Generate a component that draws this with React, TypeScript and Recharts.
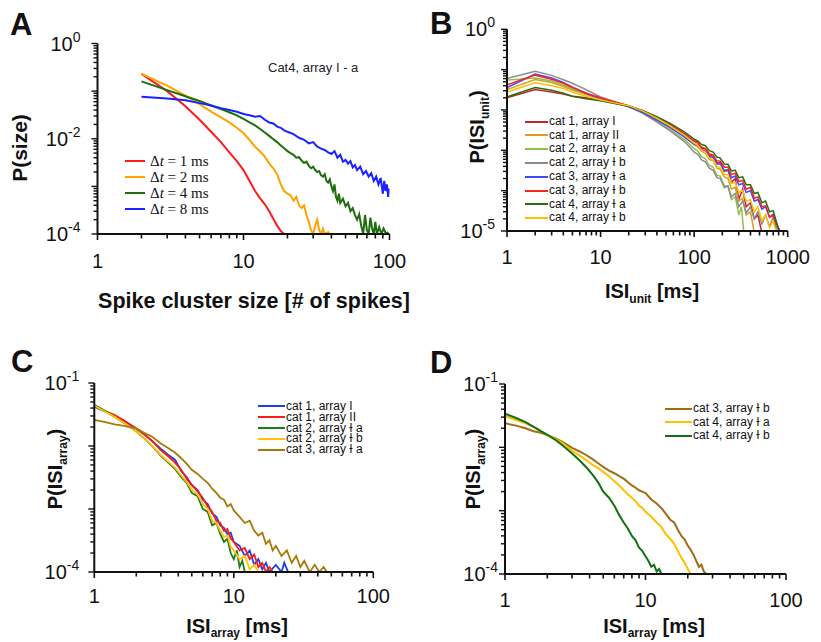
import { LineChart, Line, XAxis, YAxis, Legend } from "recharts";

type Pt = [number, number];

const FONT = "'Liberation Sans', Arial, Helvetica, sans-serif";
const SERIF = "'Liberation Serif', 'Times New Roman', serif";

// ---- Panel A: spike cluster size distributions (Cat4, array I - a)
const sizeDt1: Pt[] = [
  [2, 0.23], [3, 0.1], [4, 0.048], [5, 0.025], [6, 0.014], [7, 0.0085], [8, 0.0052],
  [9, 0.0034], [10, 0.0022], [11, 0.0013], [12, 8.0e-4], [13, 5.6e-4], [14, 4.2e-4],
  [15, 3.0e-4], [16, 2.1e-4], [17, 1.5e-4], [18, 1.15e-4], [19, 1.0e-4], [19.5, 9e-5],
];
const sizeDt2: Pt[] = [
  [2, 0.23], [3, 0.13], [4, 0.08], [5, 0.053], [6, 0.037], [7, 0.028], [8, 0.022],
  [9, 0.017], [10, 0.013], [11, 0.0095], [12, 0.0068], [13, 0.0054], [14, 0.0042],
  [15, 0.003], [16, 0.0024], [17, 0.0018], [18, 0.0011], [19, 8e-4], [20, 7e-4],
  [21, 6.5e-4], [22, 5e-4], [23, 6e-4], [24, 4e-4], [25, 3.5e-4], [26, 4e-4],
  [27, 2.5e-4], [28, 1.8e-4], [29, 1.2e-4], [30, 1.0e-4], [31, 1.5e-4], [32, 2.0e-4],
  [33, 1.2e-4], [34, 1.0e-4], [35, 1.3e-4], [36, 1.0e-4], [38, 1.1e-4], [40, 9e-5],
];
const sizeDt4: Pt[] = [
  [2, 0.16], [3, 0.105], [4, 0.078], [5, 0.062], [6, 0.05], [7, 0.042], [8, 0.036],
  [9, 0.031], [10, 0.026], [11, 0.022], [12, 0.019], [13, 0.016], [14, 0.0135],
  [15, 0.0115], [16, 0.0098], [17, 0.0085], [18, 0.0072], [19, 0.0063], [20, 0.0055],
  [21, 0.005], [22, 0.0046], [23, 0.004], [24, 0.0041], [25, 0.0035], [26, 0.0031],
  [27, 0.0033], [28, 0.0027], [29, 0.0024], [30, 0.0026], [31, 0.0022], [32, 0.002],
  [33, 0.0021], [34, 0.0017], [35, 0.0016], [36, 0.0018], [37, 0.0013], [38, 0.0012],
  [39, 0.0014], [40, 0.001], [41, 8e-4], [42, 0.0011], [43, 6e-4], [44, 5e-4],
  [45, 7e-4], [46, 4.5e-4], [48, 5.5e-4], [50, 3.8e-4], [52, 4.5e-4], [54, 3.0e-4],
  [56, 3.5e-4], [58, 2.5e-4], [60, 2.0e-4], [62, 2.6e-4], [64, 1.5e-4], [66, 1.0e-4],
  [68, 2.5e-4], [70, 1.2e-4], [72, 1.0e-4], [74, 2.2e-4], [76, 1.3e-4], [78, 1.0e-4],
  [80, 1.8e-4], [82, 1.0e-4], [85, 1.4e-4], [88, 1.0e-4], [91, 1.3e-4], [95, 1.0e-4],
  [98, 1.1e-4],
];
const sizeDt8: Pt[] = [
  [2, 0.076], [3, 0.07], [4, 0.064], [5, 0.056], [6, 0.05], [7, 0.044], [8, 0.04],
  [9, 0.037], [10, 0.033], [11, 0.031], [12, 0.029], [13, 0.03], [14, 0.025],
  [15, 0.022], [16, 0.021], [17, 0.018], [18, 0.017], [19, 0.015], [20, 0.014],
  [22, 0.0125], [24, 0.0105], [26, 0.0095], [28, 0.008], [30, 0.0085], [32, 0.0068],
  [34, 0.0062], [36, 0.0058], [38, 0.0052], [40, 0.0048], [42, 0.0055], [44, 0.004],
  [46, 0.0046], [48, 0.0033], [50, 0.0036], [52, 0.003], [54, 0.0034], [56, 0.0025],
  [58, 0.0028], [60, 0.0022], [63, 0.0026], [66, 0.0018], [69, 0.0021], [72, 0.0016],
  [75, 0.0019], [78, 0.0013], [81, 0.0016], [84, 0.0011], [87, 0.0015], [90, 7e-4],
  [92, 0.0013], [94, 8e-4], [96, 0.0011], [98, 6e-4], [100, 9e-4],
];

// ---- Panel B: single-unit ISI distributions
const isiUnitCat1I: Pt[] = [
  [1, 0.02], [2, 0.032], [3, 0.028], [4, 0.025], [5, 0.022], [7, 0.02], [10, 0.018],
  [14, 0.015], [20, 0.0125], [28, 0.0095], [40, 0.0064], [56, 0.0042], [80, 0.0025],
  [100, 0.0017], [110, 0.0016], [120, 0.0011], [132, 0.0011], [145, 7.5e-4], [160, 7.2e-4],
  [175, 4.8e-4], [190, 5.0e-4], [210, 3.0e-4], [230, 3.2e-4], [250, 1.6e-4], [275, 2.0e-4],
  [300, 6e-5], [330, 1.1e-4], [360, 4e-5], [400, 5e-5], [440, 2e-5], [480, 2.5e-5], [530, 9e-6],
];
const isiUnitCat1II: Pt[] = [
  [1, 0.032], [2, 0.057], [3, 0.048], [4, 0.038], [5, 0.031], [7, 0.024], [10, 0.019],
  [14, 0.015], [20, 0.0125], [28, 0.0092], [40, 0.006], [56, 0.0038], [80, 0.0021],
  [100, 0.0014], [110, 0.0012], [120, 9.5e-4], [132, 8.5e-4], [145, 6.0e-4], [160, 5.5e-4],
  [175, 3.6e-4], [190, 3.4e-4], [210, 2.2e-4], [230, 2.0e-4], [250, 1.1e-4], [275, 1.2e-4],
  [300, 5.5e-5], [330, 6.5e-5], [360, 2.5e-5], [400, 3e-5], [440, 9e-6],
];
const isiUnitCat2Ia: Pt[] = [
  [1, 0.055], [2, 0.062], [3, 0.052], [4, 0.041], [5, 0.033], [7, 0.025], [10, 0.019],
  [14, 0.015], [20, 0.012], [28, 0.0084], [40, 0.0052], [56, 0.0032], [80, 0.0018],
  [100, 0.0011], [110, 9.5e-4], [120, 7.0e-4], [132, 6.2e-4], [145, 4.2e-4], [160, 3.8e-4],
  [175, 2.4e-4], [190, 2.3e-4], [210, 1.3e-4], [230, 1.3e-4], [250, 6e-5], [275, 7e-5],
  [300, 2.5e-5], [320, 4e-5], [340, 9e-6],
];
const isiUnitCat2Ib: Pt[] = [
  [1, 0.06], [2, 0.091], [3, 0.072], [4, 0.056], [5, 0.046], [7, 0.032], [10, 0.021],
  [14, 0.016], [20, 0.0125], [28, 0.0085], [40, 0.005], [56, 0.003], [80, 0.0016],
  [100, 9.0e-4], [110, 8.0e-4], [120, 5.8e-4], [132, 5.2e-4], [145, 3.6e-4], [160, 3.2e-4],
  [175, 2.1e-4], [190, 2.0e-4], [210, 1.2e-4], [230, 1.3e-4], [250, 7e-5], [275, 8.5e-5],
  [300, 4e-5], [330, 5.5e-5], [360, 2.8e-5], [400, 4e-5], [440, 2e-5], [480, 3e-5],
  [530, 1.5e-5], [580, 2.5e-5], [640, 1.3e-5], [700, 2.2e-5], [770, 1.2e-5], [850, 9e-6],
];
const isiUnitCat3Ia: Pt[] = [
  [1, 0.036], [2, 0.078], [3, 0.062], [4, 0.048], [5, 0.037], [7, 0.026], [10, 0.019],
  [14, 0.015], [20, 0.012], [28, 0.0088], [40, 0.0056], [56, 0.0036], [80, 0.0021],
  [100, 0.0014], [110, 0.0013], [120, 0.001], [132, 9.5e-4], [145, 7.0e-4], [160, 6.6e-4],
  [175, 4.6e-4], [190, 4.6e-4], [210, 3.2e-4], [230, 3.3e-4], [250, 2.1e-4], [275, 2.3e-4],
  [300, 1.4e-4], [330, 1.5e-4], [360, 9e-5], [400, 1.0e-4], [440, 5.5e-5], [480, 6e-5],
  [530, 3.5e-5], [580, 4e-5], [640, 2.2e-5], [700, 2.6e-5], [770, 1.4e-5], [850, 9e-6],
];
const isiUnitCat3Ib: Pt[] = [
  [1, 0.042], [2, 0.073], [3, 0.058], [4, 0.046], [5, 0.036], [7, 0.026], [10, 0.02],
  [14, 0.016], [20, 0.0128], [28, 0.0096], [40, 0.0065], [56, 0.0043], [80, 0.0025],
  [100, 0.0017], [110, 0.0015], [120, 0.0012], [132, 0.0011], [145, 8.2e-4], [160, 7.6e-4],
  [175, 5.5e-4], [190, 5.4e-4], [210, 3.8e-4], [230, 3.8e-4], [250, 2.5e-4], [275, 2.7e-4],
  [300, 1.7e-4], [330, 1.8e-4], [360, 1.1e-4], [400, 1.2e-4], [440, 6.5e-5], [480, 7e-5],
  [530, 4e-5], [580, 4.2e-5], [640, 2.2e-5], [700, 2.4e-5], [760, 9e-6],
];
const isiUnitCat4Ia: Pt[] = [
  [1, 0.021], [2, 0.036], [3, 0.031], [4, 0.026], [5, 0.022], [7, 0.019], [10, 0.017],
  [14, 0.0145], [20, 0.0125], [28, 0.0098], [40, 0.0068], [56, 0.0046], [80, 0.0028],
  [100, 0.0019], [110, 0.0017], [120, 0.0014], [132, 0.0013], [145, 9.8e-4], [160, 9.0e-4],
  [175, 6.8e-4], [190, 6.4e-4], [210, 4.6e-4], [230, 4.5e-4], [250, 3.1e-4], [275, 3.2e-4],
  [300, 2.1e-4], [330, 2.2e-4], [360, 1.4e-4], [400, 1.4e-4], [440, 8.5e-5], [480, 9e-5],
  [530, 5e-5], [580, 5.5e-5], [640, 3e-5], [700, 3.2e-5], [770, 1.5e-5], [820, 9e-6],
];
const isiUnitCat4Ib: Pt[] = [
  [1, 0.028], [2, 0.047], [3, 0.04], [4, 0.034], [5, 0.028], [7, 0.022], [10, 0.018],
  [14, 0.015], [20, 0.0128], [28, 0.0095], [40, 0.0063], [56, 0.004], [80, 0.0023],
  [100, 0.0015], [110, 0.0013], [120, 0.001], [132, 9.0e-4], [145, 6.4e-4], [160, 5.8e-4],
  [175, 4.0e-4], [190, 3.8e-4], [210, 2.5e-4], [230, 2.5e-4], [250, 1.5e-4], [275, 1.6e-4],
  [300, 9e-5], [330, 1.0e-4], [360, 5.5e-5], [400, 6e-5], [440, 3e-5], [480, 4e-5],
  [530, 1.8e-5], [580, 2.5e-5], [640, 1.2e-5], [700, 1.8e-5], [760, 9e-6],
];

// ---- Panel C: array ISI distributions (cats 1-3)
const isiArrC1I: Pt[] = [
  [1, 0.042], [1.2, 0.035], [1.4, 0.03], [1.6, 0.026], [1.8, 0.022], [2, 0.019], [2.3, 0.015],
  [2.6, 0.012], [3, 0.009], [3.4, 0.0072], [3.8, 0.006], [4.2, 0.004], [4.6, 0.0032],
  [5, 0.0024], [5.5, 0.002], [6, 0.0014], [6.5, 0.0012], [7, 8.5e-4], [7.5, 7.5e-4],
  [8, 5.5e-4], [8.5, 5.0e-4], [9, 4.0e-4], [9.5, 4.2e-4], [10, 3.0e-4], [11, 2.6e-4],
  [12, 1.8e-4], [13, 2.2e-4], [14, 1.3e-4], [15, 1.6e-4], [16, 1.1e-4], [17, 1.4e-4],
  [18, 1.0e-4], [20, 1.3e-4], [22, 1.0e-4], [23, 1.4e-4], [25, 9e-5],
];
const isiArrC1II: Pt[] = [
  [1, 0.043], [1.2, 0.036], [1.4, 0.031], [1.6, 0.026], [1.8, 0.022], [2, 0.019], [2.3, 0.015],
  [2.6, 0.012], [3, 0.0085], [3.4, 0.0068], [3.8, 0.0054], [4.2, 0.0042], [4.6, 0.003],
  [5, 0.0024], [5.5, 0.0019], [6, 0.0015], [6.5, 0.0011], [7, 9.0e-4], [7.5, 6.5e-4],
  [8, 6.0e-4], [8.5, 4.5e-4], [9, 4.8e-4], [9.5, 3.4e-4], [10, 3.0e-4], [11, 2.2e-4],
  [12, 2.4e-4], [13, 1.6e-4], [14, 1.9e-4], [15, 1.2e-4], [16, 1.4e-4], [17, 1.0e-4],
  [18, 1.2e-4], [19, 1.0e-4], [20, 9e-5],
];
const isiArrC2Ia: Pt[] = [
  [1, 0.045], [1.2, 0.036], [1.4, 0.029], [1.6, 0.024], [1.8, 0.02], [2, 0.017], [2.3, 0.013],
  [2.6, 0.01], [3, 0.007], [3.4, 0.0054], [3.8, 0.0043], [4.2, 0.0032], [4.6, 0.0026],
  [5, 0.0018], [5.5, 0.0016], [6, 0.001], [6.5, 9.0e-4], [7, 5.5e-4], [7.5, 6.0e-4],
  [8, 4.0e-4], [8.5, 3.0e-4], [9, 3.4e-4], [9.5, 2.0e-4], [10, 1.6e-4], [10.5, 2.2e-4],
  [11, 1.2e-4], [11.5, 1.5e-4], [12, 1.0e-4], [12.5, 9e-5],
];
const isiArrC2Ib: Pt[] = [
  [1, 0.044], [1.2, 0.035], [1.4, 0.029], [1.6, 0.024], [1.8, 0.02], [2, 0.017], [2.3, 0.013],
  [2.6, 0.01], [3, 0.0072], [3.4, 0.0056], [3.8, 0.0045], [4.2, 0.0034], [4.6, 0.0027],
  [5, 0.002], [5.5, 0.0017], [6, 0.0012], [6.5, 0.001], [7, 6.5e-4], [7.5, 6.0e-4],
  [8, 4.5e-4], [8.5, 3.6e-4], [9, 3.8e-4], [9.5, 2.5e-4], [10, 2.2e-4], [11, 1.6e-4],
  [12, 1.8e-4], [13, 1.1e-4], [14, 1.3e-4], [15, 1.0e-4], [16, 9e-5],
];
const isiArrC3Ia: Pt[] = [
  [1, 0.026], [1.2, 0.024], [1.4, 0.022], [1.6, 0.021], [1.8, 0.02], [2, 0.019], [2.3, 0.016],
  [2.6, 0.014], [3, 0.011], [3.4, 0.0092], [3.8, 0.0078], [4.2, 0.0064], [4.6, 0.0052],
  [5, 0.0042], [5.5, 0.0036], [6, 0.003], [6.5, 0.0026], [7, 0.0021], [7.5, 0.0018],
  [8, 0.0015], [8.5, 0.0014], [9, 0.0011], [9.5, 0.0012], [10, 9.5e-4], [11, 7.5e-4],
  [12, 6.0e-4], [13, 6.5e-4], [14, 4.5e-4], [15, 3.8e-4], [16, 4.2e-4], [17, 2.8e-4],
  [18, 3.2e-4], [19, 2.2e-4], [20, 2.6e-4], [22, 1.8e-4], [24, 2.2e-4], [26, 1.4e-4],
  [28, 1.8e-4], [30, 1.2e-4], [32, 1.5e-4], [35, 1.0e-4], [38, 1.3e-4], [41, 1.0e-4],
  [44, 1.2e-4], [48, 9e-5],
];

// ---- Panel D: array ISI distributions (cats 3-4)
const isiArrD3Ib: Pt[] = [
  [1, 0.024], [1.2, 0.022], [1.4, 0.02], [1.6, 0.018], [1.8, 0.017], [2, 0.0156], [2.3, 0.0138],
  [2.6, 0.012], [3, 0.0098], [3.4, 0.0086], [3.8, 0.0075], [4.2, 0.0065], [4.6, 0.0056],
  [5, 0.0049], [5.5, 0.0043], [6, 0.0039], [6.5, 0.0035], [7, 0.0032], [7.5, 0.0028],
  [8, 0.0025], [8.5, 0.0023], [9, 0.0021], [9.5, 0.002], [10, 0.0019], [11, 0.0015],
  [12, 0.0013], [13, 0.0011], [14, 8.8e-4], [15, 7.2e-4], [16, 6.5e-4], [17, 5.0e-4],
  [18, 4.0e-4], [19, 3.5e-4], [20, 2.8e-4], [21, 2.4e-4], [22, 2.0e-4], [23, 1.6e-4],
  [24, 1.3e-4], [25, 1.4e-4], [26, 1.1e-4], [27, 1.0e-4], [28, 9e-5],
];
const isiArrD4Ia: Pt[] = [
  [1, 0.031], [1.2, 0.027], [1.4, 0.024], [1.6, 0.021], [1.8, 0.018], [2, 0.0158], [2.3, 0.0135],
  [2.6, 0.0115], [3, 0.0088], [3.4, 0.0074], [3.8, 0.0062], [4.2, 0.0053], [4.6, 0.0047],
  [5, 0.0041], [5.5, 0.0035], [6, 0.0029], [6.5, 0.0025], [7, 0.0021], [7.5, 0.0018],
  [8, 0.0016], [8.5, 0.0014], [9, 0.0012], [9.5, 0.0011], [10, 9.6e-4], [11, 8.0e-4],
  [12, 6.5e-4], [13, 5.5e-4], [14, 4.2e-4], [15, 3.6e-4], [16, 3.0e-4], [17, 2.3e-4],
  [18, 1.8e-4], [19, 1.5e-4], [20, 1.2e-4], [21, 1.0e-4], [22, 9e-5],
];
const isiArrD4Ib: Pt[] = [
  [1, 0.034], [1.2, 0.029], [1.4, 0.025], [1.6, 0.021], [1.8, 0.018], [2, 0.0158], [2.3, 0.013],
  [2.6, 0.0105], [3, 0.008], [3.4, 0.0062], [3.8, 0.0048], [4.2, 0.0037], [4.6, 0.0028],
  [5, 0.002], [5.5, 0.0016], [6, 0.0012], [6.5, 8.5e-4], [7, 6.5e-4], [7.5, 5.2e-4],
  [8, 4.0e-4], [8.5, 3.4e-4], [9, 2.6e-4], [9.5, 2.3e-4], [10, 1.9e-4], [10.5, 1.6e-4],
  [11, 1.3e-4], [11.5, 1.4e-4], [12, 1.1e-4], [12.5, 1.2e-4], [13, 1.0e-4], [13.5, 9e-5],
];

interface Series {
  name: string;
  color: string;
  pts: Pt[];
}

interface LegendCfg {
  left: number;
  top: number;
  rowH: number;
  lineW: number;
  gap: number;
  fontSize: number;
  font: string;
}

interface PanelProps {
  left: number;
  top: number;
  width: number;
  height: number;
  plot: { l: number; t: number; r: number; b: number };
  xDecades: [number, number];
  yDecades: [number, number];
  yLabels: number[];
  xLabelDy: number;
  yLabelOff: number;
  strokeWidth: number;
  series: Series[];
  legend: LegendCfg;
  mathLabels?: boolean;
}

const isDecade = (v: number) => {
  const l = Math.log10(v);
  return Math.abs(l - Math.round(l)) < 1e-6;
};

// 1..9 x 10^e for each decade, plus the closing decade
const logTicks = (lo: number, hi: number) => {
  const out: number[] = [];
  for (let e = lo; e < hi; e++) {
    for (let m = 1; m < 10; m++) out.push(m * Math.pow(10, e));
  }
  out.push(Math.pow(10, hi));
  return out;
};

const makeXTick = (labelDy: number) => (p: any) => {
  const v = p.payload.value;
  const major = isDecade(v);
  return (
    <g>
      <line x1={p.x} x2={p.x} y1={p.y} y2={p.y + (major ? 6 : 4.5)} stroke="#111" strokeWidth={1.6} />
      {major && (
        <text x={p.x} y={p.y + labelDy} textAnchor="middle" fontSize={20} fontFamily={FONT} fill="#111">
          {Math.round(v)}
        </text>
      )}
    </g>
  );
};

const makeYTick = (labelOff: number, labels: number[]) => (p: any) => {
  const v = p.payload.value;
  const major = isDecade(v);
  const e = Math.round(Math.log10(v));
  return (
    <g>
      <line x1={p.x - (major ? 6 : 4)} x2={p.x} y1={p.y} y2={p.y} stroke="#111" strokeWidth={1.4} />
      {major && labels.includes(e) && (
        <text x={p.x - labelOff} y={p.y + 7} textAnchor="end" fontSize={20} fontFamily={FONT} fill="#111">
          10
          <tspan dy={-9} fontSize={14}>
            {String(e)}
          </tspan>
        </text>
      )}
    </g>
  );
};

function Panel(props: PanelProps) {
  const { plot, width, height, legend } = props;
  const yw = 60;
  const xh = 40;
  const margin = {
    left: plot.l - yw,
    top: plot.t,
    right: width - plot.r,
    bottom: height - plot.b - xh,
  };
  const x0 = Math.pow(10, props.xDecades[0]);
  const x1 = Math.pow(10, props.xDecades[1]);
  const y0 = Math.pow(10, props.yDecades[0]);
  const y1 = Math.pow(10, props.yDecades[1]);

  const renderLegend = (lp: any) => (
    <div style={{ fontFamily: legend.font, fontSize: legend.fontSize, color: "#111" }}>
      {(lp.payload || []).map((item: any) => (
        <div
          key={item.value}
          style={{ display: "flex", alignItems: "center", height: legend.rowH, whiteSpace: "nowrap" }}
        >
          <span
            style={{
              display: "inline-block",
              width: legend.lineW,
              height: 2,
              background: item.color,
              marginRight: legend.gap,
            }}
          />
          <span style={{ lineHeight: `${legend.rowH}px` }}>
            {props.mathLabels ? (
              <>
                Δ<i>t</i>
                {String(item.value).slice(2)}
              </>
            ) : (
              item.value
            )}
          </span>
        </div>
      ))}
    </div>
  );

  return (
    <div style={{ position: "absolute", left: props.left, top: props.top, width, height }}>
      <LineChart width={width} height={height} margin={margin}>
        <XAxis
          type="number"
          dataKey="x"
          scale="log"
          domain={[x0, x1]}
          allowDataOverflow
          ticks={logTicks(props.xDecades[0], props.xDecades[1])}
          interval={0}
          height={xh}
          tickSize={0}
          tickMargin={0}
          tickLine={false}
          axisLine={{ stroke: "#111", strokeWidth: 2 }}
          tick={makeXTick(props.xLabelDy)}
        />
        <YAxis
          type="number"
          dataKey="y"
          scale="log"
          domain={[y0, y1]}
          allowDataOverflow
          ticks={logTicks(props.yDecades[0], props.yDecades[1])}
          interval={0}
          width={yw}
          tickSize={0}
          tickMargin={0}
          tickLine={false}
          axisLine={{ stroke: "#111", strokeWidth: 2 }}
          tick={makeYTick(props.yLabelOff, props.yLabels)}
        />
        <Legend
          layout="vertical"
          align="center"
          verticalAlign="middle"
          wrapperStyle={{ left: legend.left, top: legend.top, width: "auto", height: "auto" }}
          content={renderLegend}
        />
        {props.series.map((s) => (
          <Line
            key={s.name}
            name={s.name}
            data={s.pts.map(([x, y]) => ({ x, y }))}
            dataKey="y"
            type="linear"
            stroke={s.color}
            strokeWidth={props.strokeWidth}
            dot={false}
            activeDot={false}
            isAnimationActive={false}
          />
        ))}
      </LineChart>
    </div>
  );
}

const seriesA: Series[] = [
  { name: "Δt = 1 ms", color: "#ff1a1a", pts: sizeDt1 },
  { name: "Δt = 2 ms", color: "#ffa200", pts: sizeDt2 },
  { name: "Δt = 4 ms", color: "#1f6e0e", pts: sizeDt4 },
  { name: "Δt = 8 ms", color: "#1a22ff", pts: sizeDt8 },
];

const seriesB: Series[] = [
  { name: "cat 1, array I", color: "#c8232c", pts: isiUnitCat1I },
  { name: "cat 1, array II", color: "#d6a022", pts: isiUnitCat1II },
  { name: "cat 2, array Ɨ a", color: "#8ec050", pts: isiUnitCat2Ia },
  { name: "cat 2, array Ɨ b", color: "#8c8c8c", pts: isiUnitCat2Ib },
  { name: "cat 3, array Ɨ a", color: "#3b4bff", pts: isiUnitCat3Ia },
  { name: "cat 3, array Ɨ b", color: "#ff2020", pts: isiUnitCat3Ib },
  { name: "cat 4, array Ɨ a", color: "#2c6b10", pts: isiUnitCat4Ia },
  { name: "cat 4, array Ɨ b", color: "#ffc000", pts: isiUnitCat4Ib },
];

const seriesC: Series[] = [
  { name: "cat 1, array I", color: "#1f3fe0", pts: isiArrC1I },
  { name: "cat 1, array II", color: "#ff1a1a", pts: isiArrC1II },
  { name: "cat 2, array Ɨ a", color: "#1f7a1a", pts: isiArrC2Ia },
  { name: "cat 2, array Ɨ b", color: "#ffc400", pts: isiArrC2Ib },
  { name: "cat 3, array Ɨ a", color: "#a87808", pts: isiArrC3Ia },
];

const seriesD: Series[] = [
  { name: "cat 3, array Ɨ b", color: "#a06c14", pts: isiArrD3Ib },
  { name: "cat 4, array Ɨ a", color: "#ffc000", pts: isiArrD4Ia },
  { name: "cat 4, array Ɨ b", color: "#127012", pts: isiArrD4Ib },
];

const SubTitle = ({ main, sub, tail, size = 20, drop = 5 }: { main: string; sub: string; tail: string; size?: number; drop?: number }) => (
  <>
    {main}
    <tspan dy={drop} fontSize={size * 0.6}>
      {sub}
    </tspan>
    <tspan dy={-drop}>{tail}</tspan>
  </>
);

export default function App() {
  const bold = { fontFamily: FONT, fontWeight: 700, fill: "#111" } as const;
  return (
    <div style={{ position: "absolute", left: 0, top: 0, width: 821, height: 642, background: "#fff" }}>
      <Panel
        left={0}
        top={0}
        width={410}
        height={320}
        plot={{ l: 97.5, t: 43.5, r: 389.5, b: 234 }}
        xDecades={[0, 2]}
        yDecades={[-4, 0]}
        yLabels={[0, -2, -4]}
        xLabelDy={34}
        yLabelOff={17}
        strokeWidth={2}
        series={seriesA}
        mathLabels
        legend={{ left: 125, top: 153, rowH: 16, lineW: 20, gap: 5, fontSize: 15, font: SERIF }}
      />
      <Panel
        left={410}
        top={0}
        width={411}
        height={320}
        plot={{ l: 97, t: 29.3, r: 377.7, b: 231 }}
        xDecades={[0, 3]}
        yDecades={[-5, 0]}
        yLabels={[0, -5]}
        xLabelDy={33}
        yLabelOff={12}
        strokeWidth={1.5}
        series={seriesB}
        legend={{ left: 115, top: 114.8, rowH: 13.8, lineW: 23, gap: 1, fontSize: 12, font: FONT }}
      />
      <Panel
        left={0}
        top={320}
        width={410}
        height={322}
        plot={{ l: 94.3, t: 63, r: 373.3, b: 252 }}
        xDecades={[0, 2]}
        yDecades={[-4, -1]}
        yLabels={[-1, -4]}
        xLabelDy={31}
        yLabelOff={15}
        strokeWidth={1.8}
        series={seriesC}
        legend={{ left: 258, top: 81, rowH: 10.8, lineW: 27, gap: 1, fontSize: 12, font: FONT }}
      />
      <Panel
        left={410}
        top={320}
        width={411}
        height={322}
        plot={{ l: 95, t: 64, r: 376, b: 254 }}
        xDecades={[0, 2]}
        yDecades={[-4, -1]}
        yLabels={[-1, -4]}
        xLabelDy={33}
        yLabelOff={7}
        strokeWidth={2}
        series={seriesD}
        legend={{ left: 255, top: 82.3, rowH: 13.4, lineW: 27, gap: 1, fontSize: 12, font: FONT }}
      />
      <svg
        width={821}
        height={642}
        style={{ position: "absolute", left: 0, top: 0, pointerEvents: "none" }}
      >
        <text x={10} y={35} fontSize={31} {...bold}>A</text>
        <text x={430} y={34} fontSize={31} {...bold}>B</text>
        <text x={11} y={372} fontSize={31} {...bold}>C</text>
        <text x={430} y={373} fontSize={31} {...bold}>D</text>

        <text x={268} y={72} fontSize={13} fontFamily={FONT} fill="#222">Cat4, array I - a</text>

        <text x={254} y={308} fontSize={21.5} textAnchor="middle" {...bold}>
          Spike cluster size [# of spikes]
        </text>
        <text x={27} y={148} fontSize={21} textAnchor="middle" transform="rotate(-90 27 148)" {...bold}>
          P(size)
        </text>

        <text x={652} y={298} fontSize={20} textAnchor="middle" {...bold}>
          <SubTitle main="ISI" sub="unit" tail=" [ms]" />
        </text>
        <text x={484} y={127} fontSize={20} textAnchor="middle" transform="rotate(-90 484 127)" {...bold}>
          <SubTitle main="P(ISI" sub="unit" tail=")" />
        </text>

        <text x={237} y={633} fontSize={20} textAnchor="middle" {...bold}>
          <SubTitle main="ISI" sub="array" tail=" [ms]" drop={4} />
        </text>
        <text x={62} y={469} fontSize={20} textAnchor="middle" transform="rotate(-90 62 469)" {...bold}>
          <SubTitle main="P(ISI" sub="array" tail=")" />
        </text>

        <text x={654} y={633} fontSize={20} textAnchor="middle" {...bold}>
          <SubTitle main="ISI" sub="array" tail=" [ms]" drop={4} />
        </text>
        <text x={480} y={469} fontSize={20} textAnchor="middle" transform="rotate(-90 480 469)" {...bold}>
          <SubTitle main="P(ISI" sub="array" tail=")" />
        </text>
      </svg>
    </div>
  );
}
